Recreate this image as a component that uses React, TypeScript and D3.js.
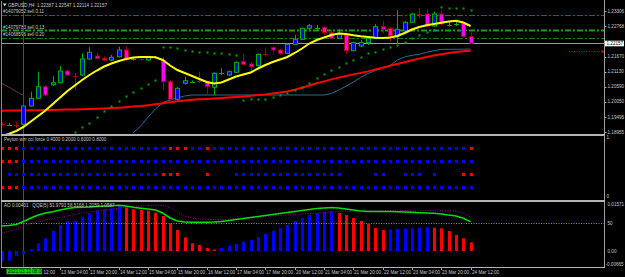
import React from 'react';
import * as d3 from 'd3';

// GBPUSD H4, bar index 0..64
const opens = [
  1.19261, 1.19214, 1.19207, 1.19232, 1.19891, 1.20168, 1.20586, 1.20658, 1.20730, 1.21151,
  1.21007, 1.21007, 1.21583, 1.21691, 1.21608, 1.21547, 1.21666, 1.21907, 1.21565, 1.21576,
  1.21547, 1.21637, 1.21522, 1.20766, 1.20132, 1.20708, 1.20762, 1.20827, 1.20766, 1.20564,
  1.21086, 1.21007, 1.21104, 1.21486, 1.21403, 1.21342, 1.21756, 1.21990, 1.21907, 1.21788,
  1.22112, 1.22292, 1.22688, 1.22706, 1.22724, 1.22530, 1.22328, 1.22447, 1.21882, 1.22051,
  1.22170, 1.22328, 1.22746, 1.22688, 1.22411, 1.22591, 1.22904, 1.23203, 1.23203, 1.22771,
  1.23203, 1.22803, 1.22839, 1.22868, 1.22387,
];
const highs = [
  1.19297, 1.19279, 1.19315, 1.19927, 1.20406, 1.21126, 1.20647, 1.20971, 1.21331, 1.21205,
  1.21079, 1.21788, 1.22004, 1.21799, 1.21673, 1.21727, 1.22026, 1.22026, 1.21644, 1.21608,
  1.21702, 1.21691, 1.21666, 1.20827, 1.20575, 1.20946, 1.20809, 1.21126, 1.20809, 1.21097,
  1.21248, 1.21169, 1.21493, 1.21763, 1.21486, 1.21781, 1.21990, 1.22051, 1.21943, 1.22141,
  1.22447, 1.22717, 1.22843, 1.22807, 1.22753, 1.22627, 1.22652, 1.22501, 1.22213, 1.22267,
  1.22357, 1.22843, 1.22962, 1.22717, 1.23347, 1.22962, 1.23250, 1.23408, 1.23372, 1.23286,
  1.23311, 1.22926, 1.22987, 1.22915, 1.22547,
];
const lows = [
  1.19189, 1.19171, 1.19099, 1.19171, 1.19855, 1.20143, 1.20251, 1.20611, 1.20701, 1.20971,
  1.20467, 1.20971, 1.21547, 1.21565, 1.21511, 1.21511, 1.21637, 1.21522, 1.21522, 1.21522,
  1.21522, 1.21601, 1.20467, 1.20046, 1.20089, 1.20665, 1.20719, 1.20708, 1.20287, 1.20287,
  1.21007, 1.20971, 1.21079, 1.21367, 1.21187, 1.21313, 1.21666, 1.21752, 1.21727, 1.21763,
  1.22087, 1.22267, 1.22627, 1.22602, 1.22447, 1.22303, 1.22303, 1.21763, 1.21853, 1.22015,
  1.22087, 1.22303, 1.22508, 1.22206, 1.22123, 1.22508, 1.22879, 1.23048, 1.22735, 1.22735,
  1.22807, 1.22746, 1.22771, 1.22357, 1.22114,
];
const closes = [
  1.19225, 1.19232, 1.19196, 1.19891, 1.20168, 1.20586, 1.20287, 1.20730, 1.21151, 1.21007,
  1.20971, 1.21583, 1.21824, 1.21608, 1.21547, 1.21644, 1.21907, 1.21572, 1.21576, 1.21565,
  1.21644, 1.21644, 1.20766, 1.20132, 1.20528, 1.20802, 1.20769, 1.20791, 1.20586, 1.21068,
  1.21093, 1.21126, 1.21464, 1.21392, 1.21306, 1.21752, 1.21745, 1.21907, 1.21788, 1.22112,
  1.22292, 1.22688, 1.22782, 1.22713, 1.22530, 1.22328, 1.22508, 1.21882, 1.22170, 1.22170,
  1.22328, 1.22746, 1.22652, 1.22411, 1.22652, 1.22904, 1.23203, 1.23192, 1.22771, 1.23203,
  1.22843, 1.22811, 1.22847, 1.22386, 1.22157,
];

// moving averages
const maFast = [
  1.18811, 1.18883, 1.18991, 1.19135, 1.19333, 1.19531, 1.19729, 1.19963, 1.20197, 1.20431,
  1.20629, 1.20827, 1.21007, 1.21169, 1.21313, 1.21421, 1.21511, 1.21583, 1.21637, 1.21655,
  1.21655, 1.21644, 1.21547, 1.21349, 1.21187, 1.21079, 1.20971, 1.20863, 1.20755, 1.20701,
  1.20737, 1.20845, 1.20953, 1.21025, 1.21097, 1.21241, 1.21367, 1.21475, 1.21565, 1.21655,
  1.21799, 1.21961, 1.22141, 1.22267, 1.22357, 1.22447, 1.22501, 1.22483, 1.22440, 1.22404,
  1.22375, 1.22346, 1.22339, 1.22357, 1.22411, 1.22519, 1.22645, 1.22735, 1.22796, 1.22843,
  1.22886, 1.22933, 1.22958, 1.22897, 1.22771,
];
const maSlow = [
  1.19722, 1.19725, 1.19729, 1.19733, 1.19736, 1.19740, 1.19743, 1.19747, 1.19754, 1.19761,
  1.19769, 1.19776, 1.19783, 1.19794, 1.19805, 1.19815, 1.19830, 1.19848, 1.19869, 1.19891,
  1.19920, 1.19952, 1.19988, 1.20024, 1.20060, 1.20089, 1.20114, 1.20132, 1.20147, 1.20165,
  1.20179, 1.20197, 1.20215, 1.20237, 1.20262, 1.20287, 1.20309, 1.20341, 1.20373, 1.20413,
  1.20478, 1.20550, 1.20629, 1.20708, 1.20777, 1.20849, 1.20913, 1.20971, 1.21029, 1.21083,
  1.21137, 1.21205, 1.21266, 1.21338, 1.21403, 1.21468, 1.21536, 1.21597, 1.21655, 1.21709,
  1.21756, 1.21799, 1.21835, 1.21860, 1.21878,
];
const baseLine = [
  null, null, null, null, null, null, null, null, null, null,
  null, null, null, null, null, null, null, null, 1.18937, 1.19171,
  1.19495, 1.19783, 1.20017, 1.20107, 1.20186, 1.20251, 1.20287, 1.20287, 1.20287, 1.20287,
  1.20287, 1.20287, 1.20287, 1.20287, 1.20287, 1.20287, 1.20287, 1.20287, 1.20287, 1.20287,
  1.20287, 1.20287, 1.20287, 1.20287, 1.20287, 1.20341, 1.20467, 1.20600, 1.20755, 1.20917,
  1.21061, 1.21169, 1.21259, 1.21349, 1.21547, 1.21655, 1.21716, 1.21752, 1.21824, 1.21882,
  1.21932, 1.21932, 1.21932, 1.21936, 1.21943,
];
const oldLine = [1.20708, 1.20575, 1.20413, 1.20269];
const sar = [
  null, null, null, null, null, null, null, null, null, null,
  1.18966, 1.19135, 1.19290, 1.19506, 1.19722, 1.19891, 1.20089, 1.20251, 1.20384, 1.20528,
  1.20683, 1.20827, 1.22026, 1.22004, 1.21968, 1.21907, 1.21882, 1.21846, 1.21846, 1.21799,
  1.21788, 1.21763, 1.21745, 1.20107, 1.20132, 1.20143, 1.20143, 1.20215, 1.20287, 1.20377,
  1.20467, 1.20564, 1.20730, 1.20910, 1.21043, 1.21187, 1.21313, 1.21450, 1.21547, 1.21666,
  1.21788, 1.21846, 1.21932, 1.22026, 1.22105, 1.22206, 1.22339, 1.22447, 1.22544, 1.22627,
  1.23444, 1.23419, 1.23419, 1.23408, 1.23347,
];

// order lines
const orderLevels = [1.23185, 1.22627, 1.22357];
const orderLabels = ['#14079052 sell 0.11', '#14079783 sell 0.13', '#14068596 sell 0.20'];
const redLevel = 1.21871;

// price axis
const priceTicks = [1.23306, 1.22768, 1.2167, 1.2113, 1.2059, 1.2005, 1.19495, 1.18955];

// signal dots panel (r = red, b = blue, . = none)
const dotRows = [
  'rrr bbbbb bbbbb bbbbb bbbbb rrr bb r bbbbb bbbbb bbbbb bbbbb bbbbb bbbbb bbbbb r',
  'rrr bbbbbbbbbb bbbbbbbbbb bbbbbbbbbb bbbbbbbbbb bbbbbbbbbb bbbbbbbbbb bb',
  '. bbbbbbbbbb bbbbbbbbbb b rrr ... r ... bbbbbbbbbb bbbbb .... bb .. bbb . b ... rr',
  'rrr bbbbbbbbbb bbbbbbbbbb bbbbbbbbbb bbbbbbbbbb bbbbbbbbbb bbbbbbbbbb bb',
];

// AO histogram and QQE lines
const aoValues = [
  -0.00357, -0.00324, -0.00167, -0.001, 0.00057, 0.00257, 0.00424, 0.00668, 0.00868, 0.01002,
  0.01012, 0.01146, 0.01259, 0.01346, 0.01393, 0.01426, 0.01503, 0.0146, 0.01393, 0.01369,
  0.01346, 0.01279, 0.01169, 0.00925, 0.00701, 0.00458, 0.00257, 0.002, 0.001, 0.0005,
  0.001, 0.00167, 0.00234, 0.00301, 0.00367, 0.00468, 0.00568, 0.00668, 0.00768, 0.00868,
  0.01002, 0.01102, 0.01202, 0.01269, 0.01303, 0.01319, 0.01269, 0.01202, 0.01102, 0.01002,
  0.00902, 0.00768, 0.00701, 0.00718, 0.00735, 0.00745, 0.00762, 0.00778, 0.00792, 0.00778,
  0.00758, 0.00668, 0.00534, 0.00424, 0.00291,
];
const qqeFast = [
  45.7, 46.4, 47.9, 52.1, 57.1, 61.4, 64.3, 66.0, 68.6, 70.7,
  72.1, 72.6, 72.9, 73.6, 74.3, 74.7, 75.4, 74.3, 72.4, 71.1,
  70.0, 68.6, 64.3, 57.1, 52.9, 51.4, 51.0, 51.0, 51.0, 51.4,
  52.1, 53.6, 55.0, 56.4, 57.9, 59.3, 60.7, 62.1, 63.6, 65.0,
  66.4, 67.9, 69.3, 70.7, 71.4, 72.1, 71.4, 70.0, 68.6, 67.1,
  66.4, 66.4, 66.4, 66.4, 66.0, 65.7, 65.3, 64.7, 64.3, 63.9,
  62.9, 61.4, 60.0, 56.7, 51.9,
];
const qqeSlow = [
  35.3, 37.9, 41.4, 45.7, 49.3, 51.4, 54.3, 56.4, 57.9, 60.0,
  62.1, 64.3, 65.7, 67.1, 68.6, 69.3, 71.4, 73.1, 73.7, 74.3,
  74.9, 75.4, 75.3, 72.1, 65.7, 60.0, 57.1, 55.7, 55.0, 55.0,
  55.0, 55.7, 56.4, 57.1, 57.9, 58.6, 59.3, 60.0, 60.7, 61.4,
  62.1, 62.9, 63.6, 64.3, 65.0, 65.7, 66.4, 67.1, 67.4, 67.7,
  67.9, 67.9, 67.9, 67.9, 67.7, 67.6, 67.4, 67.1, 67.4, 67.6,
  67.6, 67.4, 66.9, 64.3, 58.5,
];

// time axis (the first label is mostly hidden behind the crosshair box, only its time shows)
const timeTickBars = [4, 8, 12, 16, 20, 24, 28, 32, 36, 40, 44, 48, 52, 56, 60, 64];
const timeTickLabels = [
  '12:00', '13 Mar 04:00', '13 Mar 20:00', '14 Mar 12:00', '15 Mar 04:00', '15 Mar 20:00',
  '16 Mar 12:00', '17 Mar 04:00', '17 Mar 20:00', '20 Mar 12:00', '21 Mar 04:00', '21 Mar 20:00',
  '22 Mar 12:00', '23 Mar 04:00', '23 Mar 20:00', '24 Mar 12:00',
];
const crossBar = 3;
const crossLabel = '2021.03.12 08:00';

const FONT = '"Liberation Sans", Arial, sans-serif';
const TXT = '#c8c8c8';
const FS = 4.6;

export default function App() {
  const x = d3.scaleLinear().domain([0, 64]).range([1.5, 470.6]);
  const yP = d3.scaleLinear().domain([1.18955, 1.23635]).range([132, 2]);
  const yAO = d3.scaleLinear().domain([0, 0.01571]).range([251, 204]);
  const yQ = d3.scaleLinear().domain([50, 80]).range([223, 202]);
  const yRow = d3.scalePoint<number>().domain([0, 1, 2, 3]).range([148.3, 187.3]);
  const px = (i: number) => Math.round(x(i)) + 0.5;
  const fmt = d3.format('.5f');

  const mkLine = (vals: (number | null)[], ys: (v: number) => number) =>
    d3.line<number | null>()
      .defined(v => v != null)
      .x((_, i) => x(i))
      .y(v => ys(v as number))(vals) || '';

  const axisX = 604.5;
  const crossX = Math.floor(x(crossBar)) + 0.5;
  const bidY = Math.round(yP(closes[closes.length - 1])) + 0.5;

  return (
    <svg width={625} height={277}
      style={{ position: 'fixed', left: 0, top: 0, background: '#000', display: 'block' }}
      fontFamily={FONT}>
      <defs>
        <clipPath id="mainClip"><rect x={1} y={1} width={603} height={133} /></clipPath>
        <clipPath id="aoClip"><rect x={1} y={202} width={603} height={64} /></clipPath>
      </defs>
      <rect x={0} y={0} width={625} height={277} fill="#000" />

      {/* order lines */}
      {orderLevels.map((lv, i) => (
        <g key={'o' + i}>
          <line x1={1} x2={axisX} y1={Math.round(yP(lv)) + 0.5} y2={Math.round(yP(lv)) + 0.5}
            stroke={i === 1 ? '#1e9a1e' : '#157a15'} strokeWidth={i === 1 ? 2 : 1}
            strokeDasharray="6 2 2 2" />
          <text x={3} y={yP(lv) - 1.4} fontSize={FS} fill={TXT}>{orderLabels[i]}</text>
        </g>
      ))}
      <line x1={1} x2={axisX} y1={bidY} y2={bidY} stroke="#9a9a9a" strokeWidth={1} />
      <line x1={569} x2={602} y1={Math.round(yP(redLevel)) + 0.5} y2={Math.round(yP(redLevel)) + 0.5}
        stroke="#d00000" strokeWidth={1} strokeDasharray="1 1.5" />
      <rect x={601.5} y={Math.round(yP(redLevel)) - 0.5} width={2} height={2} fill="#ff0000" />

      {/* crosshair vertical */}
      <line x1={crossX} x2={crossX} y1={1} y2={267} stroke="#0a7a0a" strokeWidth={1} />

      <g clipPath="url(#mainClip)">
        <path d={mkLine(oldLine, yP)} fill="none" stroke="#6a3a3a" strokeWidth={1} />
        <path d={mkLine(baseLine, yP)} fill="none" stroke="#246f92" strokeWidth={1} />
        <path d={mkLine(maSlow, yP)} fill="none" stroke="#ff0000" strokeWidth={2} />
        {sar.map((v, i) => v == null ? null : (
          <rect key={'s' + i} x={Math.round(x(i)) - 0.5} y={Math.round(yP(v)) - 0.5}
            width={2} height={2} fill="#00a800" />
        ))}
        {opens.map((o, i) => {
          const c = closes[i];
          const bull = c >= o;
          const cx = px(i);
          const t = Math.min(yP(o), yP(c));
          const b = Math.max(yP(o), yP(c));
          const wick = bull ? '#00b000' : '#a80000';
          const doji = b - t < 1.2;
          return (
            <g key={'c' + i}>
              <line x1={cx} x2={cx} y1={yP(highs[i])} y2={yP(lows[i])} stroke={wick} strokeWidth={1} />
              {doji ? (
                <line x1={cx - 2.5} x2={cx + 2.5} y1={Math.round((t + b) / 2) + 0.5}
                  y2={Math.round((t + b) / 2) + 0.5} stroke={wick} strokeWidth={1} />
              ) : (
                <rect x={cx - 2} y={t} width={4} height={b - t}
                  fill={bull ? '#0000ff' : '#ff00ff'} stroke={wick} strokeWidth={1} />
              )}
            </g>
          );
        })}
        <path d={mkLine(maFast, yP)} fill="none" stroke="#ffff00" strokeWidth={2} />
      </g>

      {/* title */}
      <path d="M3,3.5 L6.5,3.5 L4.75,6.2 Z" fill="#e0e0e0" />
      <text x={8} y={6.6} fontSize={FS} fill={TXT} style={{ whiteSpace: 'pre' }}>
        {'GBPUSD,H4  1.22387 1.22547 1.22114 1.22157'}
      </text>

      {/* dots panel */}
      <text x={4} y={140.8} fontSize={FS} fill={TXT}>Peyton wzr cci force 0.4000 0.2000 0.6000 0.8000</text>
      {dotRows.map((row, r) =>
        row.replace(/ /g, '').split('').map((ch, i) => ch === '.' ? null : (
          <rect key={'d' + r + '_' + i} x={Math.round(x(i)) - 1} y={Math.round(yRow(r) as number) - 1}
            width={3} height={3} fill={ch === 'r' ? '#ff0000' : '#0000ff'} />
        ))
      )}

      {/* AO / QQE panel */}
      <g clipPath="url(#aoClip)">
        {aoValues.map((v, i) => {
          const up = i === 0 || v > aoValues[i - 1];
          const y0 = yAO(0);
          const y1 = yAO(v);
          return (
            <rect key={'a' + i} x={Math.round(x(i)) - 1} y={Math.min(y0, y1)} width={3}
              height={Math.abs(y1 - y0)} fill={up ? '#0000ff' : '#ff0000'} />
          );
        })}
        <line x1={1} x2={axisX} y1={Math.round(yQ(50)) + 0.5} y2={Math.round(yQ(50)) + 0.5}
          stroke="#9a9a00" strokeWidth={1} strokeDasharray="1 1.5" />
        <path d={mkLine(qqeSlow, yQ)} fill="none" stroke="#9a009a" strokeWidth={1} strokeDasharray="1 1.5" />
        <path d={mkLine(qqeFast, yQ)} fill="none" stroke="#00e000" strokeWidth={1.6} />
      </g>
      <text x={4} y={207.2} fontSize={FS} fill={TXT} style={{ whiteSpace: 'pre' }}>
        {'AO 0.00401   QQE(5) 51.9793 58.5168 1.2059 1.0587'}
      </text>

      {/* frames */}
      <line x1={1.5} x2={1.5} y1={1} y2={267} stroke="#8a8a8a" strokeWidth={1} />
      <line x1={axisX} x2={axisX} y1={0} y2={268} stroke="#a0a0a0" strokeWidth={1} />
      <rect x={1} y={134} width={604} height={2} fill="#b4b4b4" />
      <rect x={1} y={200} width={604} height={2} fill="#b4b4b4" />
      <line x1={1} x2={axisX} y1={267.5} y2={267.5} stroke="#b4b4b4" strokeWidth={1} />

      {/* price axis */}
      {priceTicks.map((v, i) => (
        <g key={'p' + i}>
          <line x1={axisX} x2={axisX + 2} y1={Math.round(yP(v)) + 0.5} y2={Math.round(yP(v)) + 0.5} stroke="#a0a0a0" />
          <text x={607.5} y={yP(v) + 1.7} fontSize={FS} fill={TXT}>{fmt(v)}</text>
        </g>
      ))}
      <rect x={605} y={bidY - 2.8} width={19} height={5.6} fill="#ffffff" />
      <text x={606.5} y={bidY + 1.7} fontSize={FS} fill="#000">{fmt(closes[closes.length - 1])}</text>

      <text x={606.5} y={138.8} fontSize={FS} fill={TXT}>1</text>
      <text x={606.5} y={198.4} fontSize={FS} fill={TXT}>0</text>
      <text x={607.5} y={yAO(0.01571) + 1.7} fontSize={FS} fill={TXT}>0.01571</text>
      <text x={607.5} y={yQ(50) + 1.7} fontSize={FS} fill={TXT}>50</text>
      <text x={607.5} y={yAO(0) + 1.7} fontSize={FS} fill={TXT}>0.00</text>
      <text x={605.5} y={265.7} fontSize={FS} fill={TXT}>-0.00665</text>

      {/* time axis */}
      {timeTickBars.map((b, i) => (
        <g key={'t' + i}>
          <line x1={px(b)} x2={px(b)} y1={267} y2={270} stroke="#a0a0a0" />
          <text x={i === 0 ? 43.5 : px(b) + 0.5} y={273.6} fontSize={FS} fill={TXT}>{timeTickLabels[i]}</text>
        </g>
      ))}
      <rect x={6.5} y={268.6} width={35.5} height={5.6} fill="#00e000" />
      <text x={8} y={273.2} fontSize={FS} fill="#000">{crossLabel}</text>
    </svg>
  );
}
